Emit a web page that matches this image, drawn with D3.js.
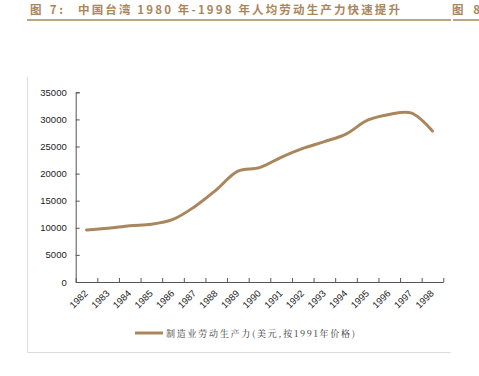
<!DOCTYPE html>
<html>
<head>
<meta charset="utf-8">
<script src="https://cdn.jsdelivr.net/npm/d3@7"></script>
<style>
  body { margin: 0; background: #fff; }
  svg { display: block; }
  .axis text { font-family: "Liberation Sans", Arial, sans-serif; font-size: 9.5px; fill: #222; }
  .axis path, .axis line { stroke: #555; }
</style>
</head>
<body>
<div class="container"></div>
<script>
// Data
const years = ['1982','1983','1984','1985','1986','1987','1988','1989','1990',
               '1991','1992','1993','1994','1995','1996','1997','1998']
const productivity = [9600, 9900, 10400, 10650, 11550, 13900, 17000, 20450, 21100,
                      23000, 24650, 25900, 27300, 29850, 30900, 31200, 27850]
const yTicks = [0, 5000, 10000, 15000, 20000, 25000, 30000, 35000]
const seriesName = '制造业劳动生产力(美元,按1991年价格)'
const titleLabel = '图 7:'
const titleText = '中国台湾 1980 年-1998 年人均劳动生产力快速提升'
const nextLabel = '图 8'

const width = 479
const height = 376
const plot = {left: 75.7, right: 443.3, top: 92.3, bottom: 282}
const brown = '#a9865c'

const svg = d3.select('.container')
    .append('svg')
    .attr('width', width)
    .attr('height', height)

// Header
function header(x, txt, len) {
    svg.append('text')
        .attr('x', x).attr('y', 13.5)
        .attr('textLength', len)
        .attr('lengthAdjust', 'spacing')
        .style('font-family', '"Noto Sans CJK SC", sans-serif')
        .style('font-size', '11.5px').style('font-weight', 'bold')
        .style('fill', brown)
        .text(txt)
}
header(30, titleLabel, 33)
header(78, titleText, 322)
header(452, nextLabel, 28)

svg.append('line')
    .attr('x1', 27).attr('x2', 451).attr('y1', 20).attr('y2', 20)
    .style('stroke', brown).style('stroke-width', 1.5)
svg.append('line')
    .attr('x1', 453).attr('x2', 479).attr('y1', 20).attr('y2', 20)
    .style('stroke', brown).style('stroke-width', 1.5)

// frame (left + bottom)
svg.append('path')
    .attr('d', 'M27.5,77V352.5H451')
    .style('fill', 'none').style('stroke', '#ddd').style('stroke-width', 1)

// Scales
const xScale = d3.scaleBand()
    .domain(years)
    .range([plot.left, plot.right])
const tickScale = d3.scaleLinear()
    .domain([0, years.length])
    .range([plot.left, plot.right])
const yScale = d3.scaleLinear()
    .domain([0, 35000])
    .range([plot.bottom, plot.top])

// Y axis
svg.append('g')
    .attr('class', 'axis')
    .attr('transform', `translate(${plot.left},0)`)
    .call(d3.axisLeft(yScale).tickValues(yTicks).tickSizeInner(-4).tickSizeOuter(-4).tickPadding(9).tickFormat(d3.format('d')))

// X axis ticks at band edges
svg.append('g')
    .attr('class', 'axis')
    .attr('transform', `translate(0,${plot.bottom})`)
    .call(d3.axisBottom(tickScale).tickValues(d3.range(0, years.length + 1)).tickSizeInner(-4).tickSizeOuter(0).tickFormat(''))

// X labels
const xLabels = svg.append('g')
    .attr('class', 'axis')
    .attr('transform', `translate(0,${plot.bottom})`)
    .call(d3.axisBottom(xScale).tickSize(0).tickPadding(0))
xLabels.select('.domain').remove()
xLabels.selectAll('text')
    .attr('text-anchor', 'end')
    .attr('dy', 0)
    .attr('transform', 'translate(2,12) rotate(-45)')

// Line
const line = d3.line()
    .x((d, i) => xScale(years[i]) + xScale.bandwidth() / 2)
    .y(d => yScale(d))
    .curve(d3.curveCatmullRom.alpha(0.5))

svg.append('path')
    .datum(productivity)
    .attr('d', line)
    .style('fill', 'none')
    .style('stroke', brown)
    .style('stroke-width', 3)
    .style('stroke-linecap', 'round')

// Legend
svg.append('line')
    .attr('x1', 135).attr('x2', 163).attr('y1', 333).attr('y2', 333)
    .style('stroke', brown).style('stroke-width', 3)
svg.append('text')
    .attr('x', 166).attr('y', 336.5)
    .attr('textLength', 189)
    .attr('lengthAdjust', 'spacing')
    .style('font-family', '"Noto Serif CJK SC", "Noto Sans CJK SC", serif')
    .style('font-size', '9px')
    .style('fill', '#333')
    .text(seriesName)
</script>
</body>
</html>
